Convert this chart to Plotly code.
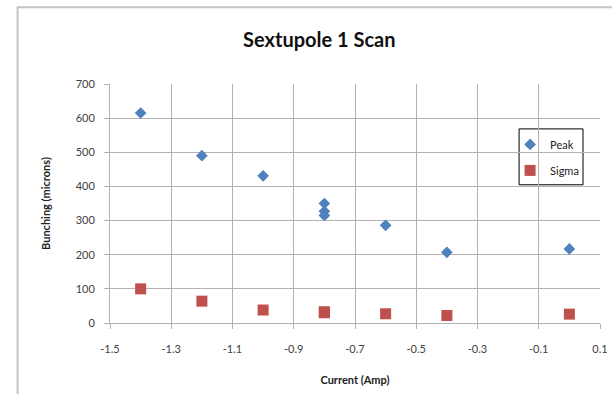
import plotly.graph_objects as go

# Sextupole 1 scan: bunching length vs. sextupole current
current_peak = [-1.4, -1.2, -1.0, -0.8, -0.8, -0.8, -0.6, -0.4, 0.0]
peak = [615, 490, 431, 350, 327, 315, 286, 207, 217]

current_sigma = [-1.4, -1.2, -1.0, -0.8, -0.8, -0.8, -0.6, -0.4, 0.0]
sigma = [100, 64, 38, 33, 31, 30, 27, 22, 26]

x_ticks = [-1.5, -1.3, -1.1, -0.9, -0.7, -0.5, -0.3, -0.1, 0.1]
y_ticks = [0, 100, 200, 300, 400, 500, 600, 700]

W, H = 612, 394
ML, MR, MT, MB = 109.5, 12, 84, 70.5
PW, PH = W - ML - MR, H - MT - MB


def px_to_paper_x(px):
    return (px - ML) / PW


def px_to_paper_y(py):
    return (H - MB - py) / PH


font_family = "Lato, 'Open Sans', sans-serif"
grid = "#b3b3b3"

fig = go.Figure()
fig.add_trace(go.Scatter(
    x=current_peak, y=peak, mode="markers", name="Peak", legendgroup="peak",
    marker=dict(symbol="diamond", size=9, color="#4f81bd"),
))
fig.add_trace(go.Scatter(
    x=current_sigma, y=sigma, mode="markers", name="Sigma", legendgroup="sigma",
    marker=dict(symbol="square", size=11, color="#c0504d"),
))

axis_common = dict(
    showgrid=True, gridcolor=grid, gridwidth=1,
    showline=True, linecolor=grid, linewidth=1,
    ticks="outside", ticklen=5, tickcolor=grid,
    zeroline=False, automargin=False,
    tickfont=dict(family=font_family, size=11, color="#404040"),
)

fig.update_layout(
    width=W, height=H,
    margin=dict(l=ML, r=MR, t=MT, b=MB, pad=0, autoexpand=False),
    paper_bgcolor="white", plot_bgcolor="white",
    title=dict(
        text="<b>Sextupole 1 Scan</b>",
        x=px_to_paper_x(319), xref="paper", xanchor="center",
        y=1 - 40 / H, yref="container", yanchor="middle",
        font=dict(family=font_family, size=20, color="#111111"),
    ),
    xaxis=dict(
        axis_common,
        range=[-1.5, 0.1], tickvals=x_ticks,
        ticktext=[f"{v:g}" for v in x_ticks],
        ticklabelstandoff=11,
        title=dict(text="<b>Current (Amp)</b>", standoff=22,
                   font=dict(family=font_family, size=11, color="#222222")),
    ),
    yaxis=dict(
        axis_common,
        range=[0, 700], tickvals=y_ticks,
        ticklabelstandoff=7,
        title=dict(text="<b>Bunching (microns)</b>", standoff=22,
                   font=dict(family=font_family, size=11, color="#222222")),
    ),
    showlegend=True,
    legend=dict(
        x=px_to_paper_x(510), y=px_to_paper_y(130),
        xanchor="left", yanchor="top",
        bgcolor="rgba(0,0,0,0)", borderwidth=0,
        font=dict(family=font_family, size=11, color="#222222"),
        itemwidth=30, tracegroupgap=7,
    ),
    shapes=[
        # legend frame
        dict(type="rect", xref="paper", yref="paper",
             x0=px_to_paper_x(519), x1=px_to_paper_x(583),
             y0=px_to_paper_y(185), y1=px_to_paper_y(129),
             line=dict(color="black", width=1), fillcolor="white",
             layer="below"),
        # chart-area frame
        dict(type="rect", xref="paper", yref="paper",
             x0=px_to_paper_x(17), x1=px_to_paper_x(640),
             y0=px_to_paper_y(420), y1=px_to_paper_y(7),
             line=dict(color="#c4c4c4", width=2), fillcolor="rgba(0,0,0,0)",
             layer="below"),
    ],
)

fig.write_html("out.html")
